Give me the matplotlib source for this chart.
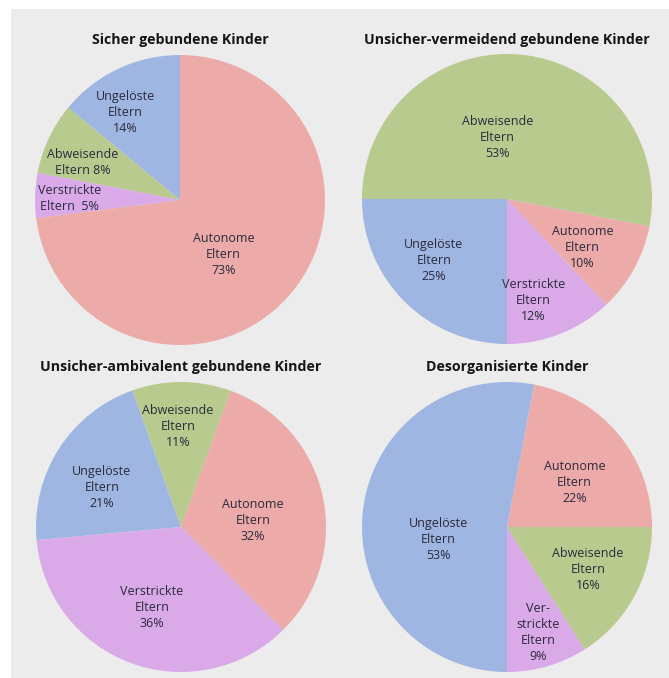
import matplotlib
matplotlib.use("Agg")
import matplotlib.pyplot as plt
from matplotlib.patches import Rectangle
import numpy as np

plt.rcParams['font.family'] = ['Open Sans', 'DejaVu Sans']

# ---- data ----
titles = ["Sicher gebundene Kinder",
          "Unsicher-vermeidend gebundene Kinder",
          "Unsicher-ambivalent gebundene Kinder",
          "Desorganisierte Kinder"]

# categories in counter-clockwise drawing order for each chart
cats_1 = ["Ungelöste", "Abweisende", "Verstrickte", "Autonome"]
vals_1 = [14, 8, 5, 73]
cats_2 = ["Ungelöste", "Verstrickte", "Autonome", "Abweisende"]
vals_2 = [25, 12, 10, 53]
cats_3 = ["Abweisende", "Ungelöste", "Verstrickte", "Autonome"]
vals_3 = [11, 21, 36, 32]
cats_4 = ["Autonome", "Ungelöste", "Verstrickte", "Abweisende"]
vals_4 = [22, 53, 9, 16]

# ---- styles ----
colors = {"Autonome": "#ecaaa9", "Abweisende": "#b8ca8e",
          "Ungelöste": "#a0b6e2", "Verstrickte": "#d9a9e8"}
start_angles = [90, 180, 70, 0]
# label layout: (angle offset from wedge middle in degrees, radius fraction, line format)
label_style = [
    [(7, 0.71, "{c}\nEltern\n{v}%"), (4, 0.72, "{c}\nEltern {v}%"),
     (1, 0.76, "{c}\nEltern  {v}%"), (-10, 0.48, "{c}\nEltern\n{v}%")],
    [(-5, 0.66, "{c}\nEltern\n{v}%"), (-7, 0.72, "{c}\nEltern\n{v}%"),
     (-4, 0.62, "{c}\nEltern\n{v}%"), (14, 0.43, "{c}\nEltern\n{v}%")],
    [(2, 0.69, "{c}\nEltern\n{v}%"), (6, 0.61, "{c}\nEltern\n{v}%"),
     (0, 0.59, "{c}\nEltern\n{v}%"), (-7, 0.50, "{c}\nEltern\n{v}%")],
    [(-6, 0.56, "{c}\nEltern\n{v}%"), (16, 0.48, "{c}\nEltern\n{v}%"),
     (0, 0.76, "Ver-\nstrickte\nEltern\n{v}%"), (1, 0.63, "{c}\nEltern\n{v}%")],
]

W, H = 669, 678
fig = plt.figure(figsize=(W / 100, H / 100), dpi=100)
fig.patch.set_facecolor("white")
fig.patches.append(Rectangle((11 / W, 0), 1, 1 - 9 / H, transform=fig.transFigure,
                             facecolor="#ececec", edgecolor="none", zorder=-10))

centers = [(180, 200), (507, 199), (181, 527), (507, 527)]
title_y = [40, 40, 367, 367]
R = 145
all_cats = [cats_1, cats_2, cats_3, cats_4]
all_vals = [vals_1, vals_2, vals_3, vals_4]

for i in range(4):
    cx, cy = centers[i]
    ax = fig.add_axes([(cx - R) / W, 1 - (cy + R) / H, 2 * R / W, 2 * R / H])
    ax.set_facecolor("none")
    wedges, _ = ax.pie(all_vals[i], colors=[colors[c] for c in all_cats[i]],
                       startangle=start_angles[i], counterclock=True,
                       radius=1.0, wedgeprops=dict(linewidth=0))
    ax.set_xlim(-1, 1)
    ax.set_ylim(-1, 1)
    ax.set_aspect("equal")
    ax.axis("off")
    for w, c, v, st in zip(wedges, all_cats[i], all_vals[i], label_style[i]):
        off, r, fmt = st
        mid = np.deg2rad((w.theta1 + w.theta2) / 2 + off)
        ax.text(r * np.cos(mid), r * np.sin(mid), fmt.format(c=c, v=v),
                ha="center", va="center", fontsize=9, color="#2a2a3c",
                linespacing=1.3)
    fig.text(cx / W, 1 - title_y[i] / H, titles[i], ha="center", va="center",
             fontsize=10.2, fontweight="bold", color="#151515")

fig.savefig("out.png", dpi=100)
